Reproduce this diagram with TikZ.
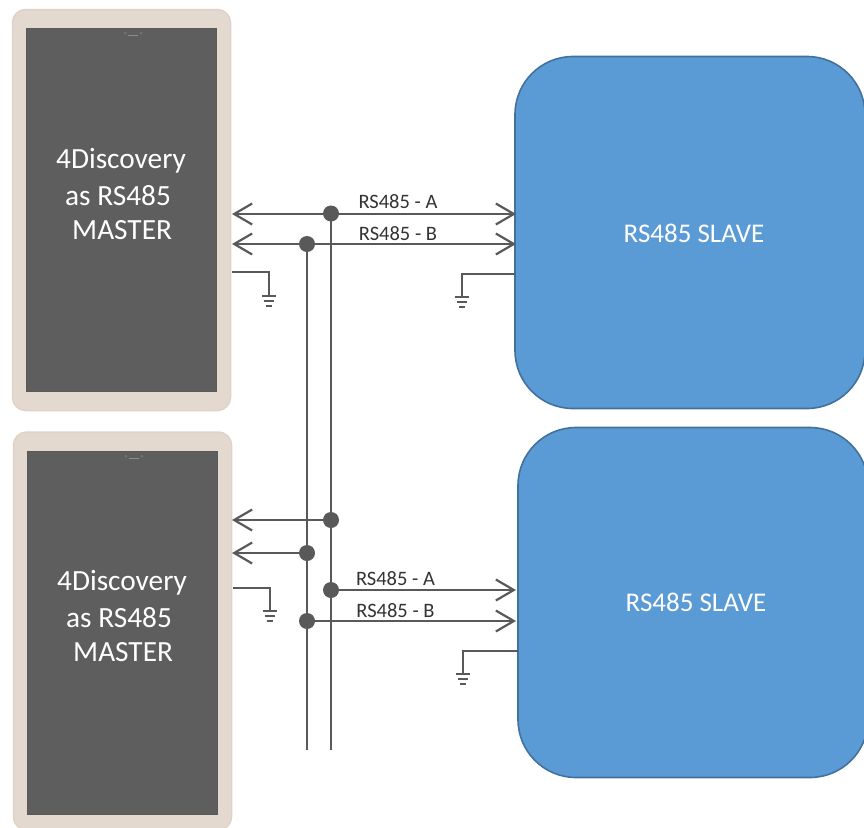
\documentclass[tikz,border=0pt]{standalone}
\usepackage{fontspec}
\setmainfont{Carlito}
\usetikzlibrary{arrows.meta,positioning}
\definecolor{wire}{HTML}{595959}
\definecolor{shell}{HTML}{E4D9CF}
\definecolor{shelledge}{HTML}{DDD3C9}
\definecolor{screen}{HTML}{5E5E5E}
\definecolor{slavefill}{HTML}{5B9BD5}
\definecolor{slaveedge}{HTML}{41719C}
\tikzset{
  x=1pt,y=-1pt,
  tablet/.style={draw=shelledge,line width=1.5pt,fill=shell,rounded corners=13pt,inner sep=0pt,minimum width=218pt},
  panel/.style={draw=wire,line width=1pt,fill=screen,inner sep=0pt,minimum width=190pt,minimum height=363pt},
  slave/.style={draw=slaveedge,line width=1.6pt,fill=slavefill,rounded corners=58pt,inner sep=0pt,minimum width=350pt},
  wireline/.style={draw=wire,line width=2.2pt},
  thin wire/.style={draw=wire,line width=2.2pt},
  tipped/.style={wireline,-{Straight Barb[length=18pt,width=21pt,line width=2.2pt]}},
  bothtipped/.style={wireline,{Straight Barb[length=18pt,width=21pt,line width=2.2pt]}-{Straight Barb[length=18pt,width=21pt,line width=2.2pt]}},
  joint/.style={circle,fill=wire,inner sep=0pt,minimum size=16pt},
  buslabel/.style={font=\fontsize{20.5}{24}\selectfont,text=black!80,inner sep=0pt},
  mastertext/.style={font=\fontsize{29.3}{34}\selectfont,text=white,inner sep=0pt,anchor=west},
  slavetext/.style={text=white,font=\fontsize{27}{32}\selectfont,inner sep=0pt},
  ground/.pic={
    \draw[thin wire] (-7,0) -- (7,0);
    \draw[thin wire] (-5,5) -- (5,5);
    \draw[thin wire] (-3,10) -- (3,10);
  },
  cam/.pic={
    \fill[black!55] (-8,0) circle (1.5pt);
    \fill[black!55] (8,0) circle (1.5pt);
    \draw[draw=black!45,line width=.4pt] (-5,2.5) -- (5,2.5);
  }
}
\begin{document}
\begin{tikzpicture}
\useasboundingbox (0,0) rectangle (864,827);
\clip (0,0) rectangle (864,827);
% devices
\node[tablet,minimum height=401pt] (m1) at (121.5,210) {};
\node[panel] (s1) at (121.5,210) {};
\pic at (133,33) {cam};
\node[tablet,minimum height=398pt] (m2) at (122.5,631) {};
\node[panel] (s2) at (122.5,632.5) {};
\pic at (134,456) {cam};
\node[slave,minimum height=352pt] (r1) at (690,232.5) {};
\node[slave,minimum height=350pt] (r2) at (693,602.5) {};
% texts
\node[mastertext] (t1a) at (56,161) {4Discovery};
\node[mastertext] (t1b) at (65,196) {as RS485};
\node[mastertext] (t1c) at (72,230) {MASTER};
\node[mastertext] (t2a) at (57,583) {4Discovery};
\node[mastertext] (t2b) at (66,618) {as RS485};
\node[mastertext] (t2c) at (73,652) {MASTER};
\node[slavetext] (l1) at (694,233) {RS485 SLAVE};
\node[slavetext] (l2) at (696,602) {RS485 SLAVE};
% anchors
\coordinate (a1l) at (232,214); \coordinate (a1r) at (516,214);
\coordinate (b1l) at (232,244); \coordinate (b1r) at (516,244);
\node[joint] (ja1) at (331,213.5) {};
\node[joint] (jb1) at (307,244) {};
\node[joint] (ja2) at (331,520) {};
\node[joint] (jb2) at (307,553) {};
\node[joint] (ja3) at (331,590) {};
\node[joint] (jb3) at (307,621) {};
\coordinate (endA) at (331,750); \coordinate (endB) at (307,750);
\coordinate (a2l) at (232,520); \coordinate (b2l) at (232,553);
\coordinate (a3r) at (516,590); \coordinate (b3r) at (516,621);
% buses
\draw[wireline] (ja1.center) -- (endA);
\draw[wireline] (jb1.center) -- (endB);
\draw[bothtipped] (a1l) -- (a1r);
\draw[bothtipped] (b1l) -- (b1r);
\draw[tipped] (ja2.center) -- (a2l);
\draw[tipped] (jb2.center) -- (b2l);
\draw[tipped] (ja3.center) -- (a3r);
\draw[tipped] (jb3.center) -- (b3r);
% grounds
\coordinate (g1s) at (232,272); \coordinate (g1e) at (269,296);
\coordinate (g2s) at (515,274); \coordinate (g2e) at (462,297);
\coordinate (g3s) at (233,588); \coordinate (g3e) at (270,611);
\coordinate (g4s) at (518,651); \coordinate (g4e) at (463,674);
\draw[thin wire] (g1s) -| (g1e); \pic at (g1e) {ground};
\draw[thin wire] (g2s) -| (g2e); \pic at (g2e) {ground};
\draw[thin wire] (g3s) -| (g3e); \pic at (g3e) {ground};
\draw[thin wire] (g4s) -| (g4e); \pic at (g4e) {ground};
% labels
\node[buslabel] (la1) at (398,202) {RS485 - A};
\node[buslabel] (lb1) at (398,234) {RS485 - B};
\node[buslabel] (la2) at (395.5,579) {RS485 - A};
\node[buslabel] (lb2) at (395.5,611) {RS485 - B};
\end{tikzpicture}
\end{document}
